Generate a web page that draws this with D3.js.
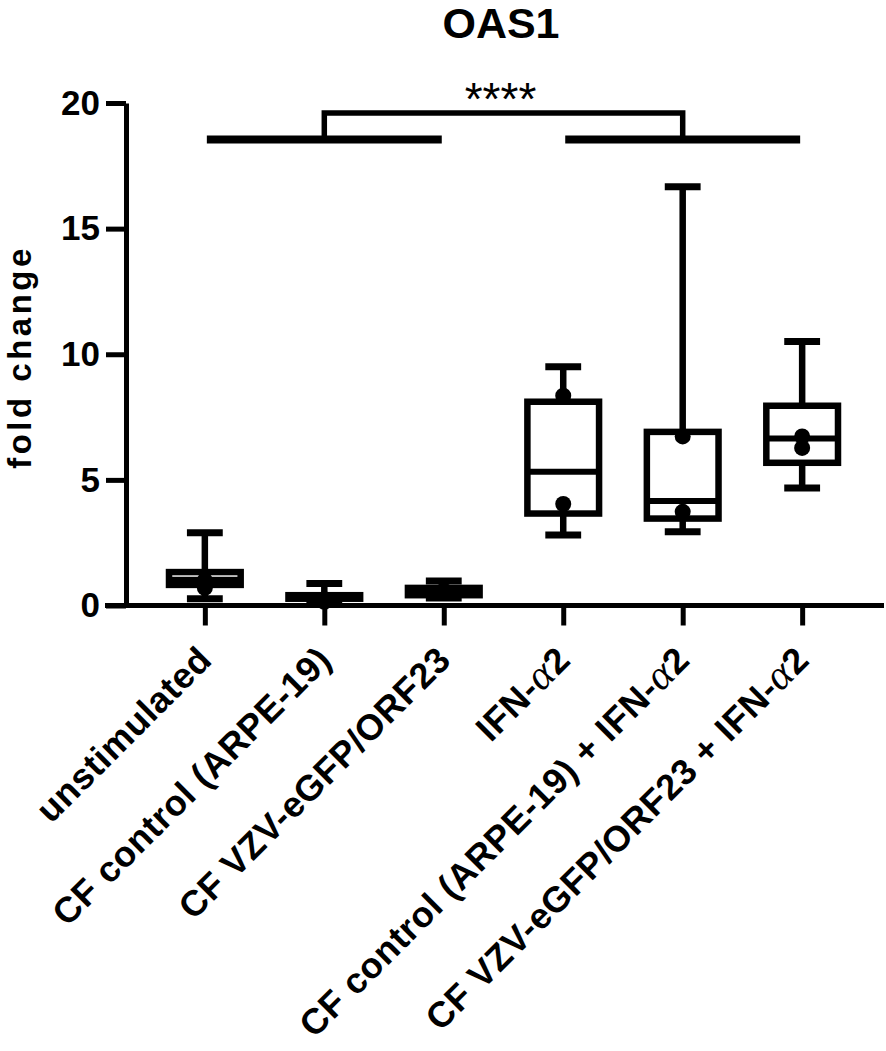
<!DOCTYPE html>
<html>
<head>
<meta charset="utf-8">
<script src="https://cdn.jsdelivr.net/npm/d3@7"></script>
<style>
  body { margin: 0; background: #fff; }
  text { font-family: "Liberation Sans", Arial, sans-serif; fill: #000; }
</style>
</head>
<body>
<div id="chart"></div>
<script>
// data
var categories = ["unstimulated", "CF control (ARPE-19)", "CF VZV-eGFP/ORF23",
  "IFN-α2", "CF control (ARPE-19) + IFN-α2", "CF VZV-eGFP/ORF23 + IFN-α2"];
var mins    = [0.27, 0.08, 0.30, 2.81, 2.94, 4.68];
var q1s     = [0.82, 0.27, 0.41, 3.66, 3.46, 5.68];
var medians = [1.02, 0.33, 0.55, 5.32, 4.16, 6.65];
var q3s     = [1.33, 0.41, 0.70, 8.11, 6.91, 7.95];
var maxs    = [2.90, 0.88, 0.98, 9.50, 16.67, 10.51];
var points  = [[1.00, 0.70], [0.25, 0.15], [0.60, 0.50],
               [8.35, 4.04], [6.73, 3.73], [6.73, 6.27]];
var yTicks = [0, 5, 10, 15, 20];
var title = "OAS1";
var yLabel = "fold change";
// significance bracket: left group vs right group
var sigGroups = [[0, 2], [3, 5]];
var sigLevels = [18.55, 19.6];
var sigText = "****";

var width = 886, height = 1051;

var svg = d3.select("#chart")
  .append("svg")
    .attr("width", width)
    .attr("height", height);

var x = d3.scalePoint()
  .domain(categories)
  .range([126, 881])
  .padding(0.66);

var y = d3.scaleLinear()
  .domain([0, 20])
  .range([605.5, 103]);

var boxW = x.step() * 0.6;

// title
svg.append("text")
  .attr("x", 501)
  .attr("y", 38)
  .attr("text-anchor", "middle")
  .style("font-size", "43px")
  .style("font-weight", "bold")
  .text(title);

// Y axis
var yAxis = svg.append("g")
  .attr("transform", "translate(126,0)")
  .call(d3.axisLeft(y).tickValues(yTicks).tickSize(20).tickSizeOuter(0).tickPadding(6));
yAxis.select(".domain").attr("stroke", "#000").attr("stroke-width", 5);
yAxis.selectAll(".tick line").attr("stroke", "#000").attr("stroke-width", 5);
yAxis.selectAll(".tick text")
  .style("font-size", "35px")
  .style("font-weight", "bold")
  .style("font-family", "'Liberation Sans', Arial, sans-serif")
  .attr("fill", "#000");

svg.append("text")
  .attr("transform", "translate(31,357)rotate(-90)")
  .attr("text-anchor", "middle")
  .style("font-size", "33px")
  .style("font-weight", "bold")
  .style("letter-spacing", "3.5px")
  .text(yLabel);

// X axis
var xAxis = svg.append("g")
  .attr("transform", "translate(0," + y(0) + ")")
  .call(d3.axisBottom(x).tickSize(20).tickSizeOuter(0));
xAxis.select(".domain").attr("stroke", "#000").attr("stroke-width", 5)
  .attr("d", "M105,0H884");
xAxis.selectAll(".tick line").attr("stroke", "#000").attr("stroke-width", 5);
xAxis.selectAll(".tick text").remove();

// rotated category labels, alpha set in a serif italic
categories.forEach(function(c) {
  var t = svg.append("text")
    .attr("transform", "translate(" + x(c) + ",653)rotate(-45)")
    .attr("text-anchor", "end")
    .attr("dy", ".35em")
    .style("font-size", "36px")
    .style("font-weight", "bold")
    .style("letter-spacing", "0.5px");
  var parts = c.split("α");
  parts.forEach(function(p, i) {
    if (i > 0) {
      t.append("tspan")
        .style("font-family", "'Liberation Serif', serif")
        .style("font-style", "italic")
        .style("font-weight", "normal")
        .style("font-size", "42px")
        .text("α");
    }
    t.append("tspan").text(p);
  });
});

// boxes
var boxes = svg.selectAll(".box")
  .data(categories)
  .enter()
  .append("g")
    .attr("class", "box");

boxes.append("line")
  .attr("x1", function(d) { return x(d); })
  .attr("x2", function(d) { return x(d); })
  .attr("y1", function(d, i) { return y(maxs[i]); })
  .attr("y2", function(d, i) { return y(mins[i]); })
  .attr("stroke", "#000")
  .attr("stroke-width", 6.5);

boxes.selectAll(".cap")
  .data(function(d, i) { return [{c: d, v: maxs[i]}, {c: d, v: mins[i]}]; })
  .enter()
  .append("line")
    .attr("x1", function(d) { return x(d.c) - boxW / 4; })
    .attr("x2", function(d) { return x(d.c) + boxW / 4; })
    .attr("y1", function(d) { return y(d.v); })
    .attr("y2", function(d) { return y(d.v); })
    .attr("stroke", "#000")
    .attr("stroke-width", 7);

boxes.append("rect")
  .attr("x", function(d) { return x(d) - boxW / 2; })
  .attr("y", function(d, i) { return y(q3s[i]); })
  .attr("width", boxW)
  .attr("height", function(d, i) { return y(q1s[i]) - y(q3s[i]); })
  .attr("fill", "#fff")
  .attr("stroke", "#000")
  .attr("stroke-width", 6.5);

boxes.append("line")
  .attr("x1", function(d) { return x(d) - boxW / 2; })
  .attr("x2", function(d) { return x(d) + boxW / 2; })
  .attr("y1", function(d, i) { return y(medians[i]); })
  .attr("y2", function(d, i) { return y(medians[i]); })
  .attr("stroke", "#000")
  .attr("stroke-width", 6);

boxes.selectAll(".pt")
  .data(function(d, i) { return points[i].map(function(v) { return {c: d, v: v}; }); })
  .enter()
  .append("circle")
    .attr("cx", function(d) { return x(d.c); })
    .attr("cy", function(d) { return y(d.v); })
    .attr("r", 8)
    .attr("fill", "#000");

// significance bracket
sigGroups.forEach(function(g) {
  svg.append("line")
    .attr("x1", x(categories[g[0]]) + 2)
    .attr("x2", x(categories[g[1]]) - 2)
    .attr("y1", y(sigLevels[0]))
    .attr("y2", y(sigLevels[0]))
    .attr("stroke", "#000")
    .attr("stroke-width", 8);
});
var mids = sigGroups.map(function(g) { return x(categories[(g[0] + g[1]) / 2]); });
svg.append("path")
  .attr("d", "M" + mids[0] + "," + y(sigLevels[0]) +
             "V" + y(sigLevels[1]) +
             "H" + mids[1] +
             "V" + y(sigLevels[0]))
  .attr("fill", "none")
  .attr("stroke", "#000")
  .attr("stroke-width", 5.5);

svg.append("text")
  .attr("x", (mids[0] + mids[1]) / 2 - 3)
  .attr("y", 115)
  .attr("text-anchor", "middle")
  .style("font-size", "46px")
  .text(sigText);
</script>
</body>
</html>
